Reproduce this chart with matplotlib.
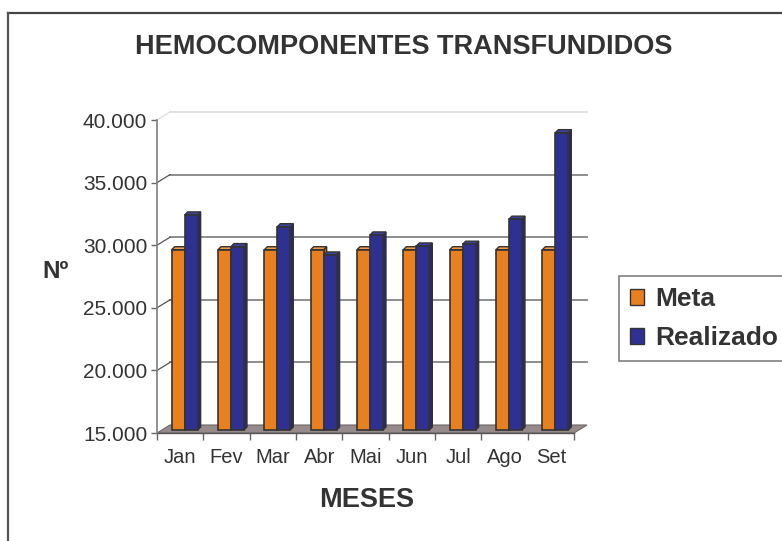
import matplotlib
matplotlib.use("Agg")
import matplotlib.pyplot as plt
from matplotlib.patches import Polygon, Patch
from matplotlib.lines import Line2D

plt.rcParams['font.family'] = ['Liberation Sans', 'DejaVu Sans']

meses = ["Jan", "Fev", "Mar", "Abr", "Mai", "Jun", "Jul", "Ago", "Set"]
meta = [29400, 29400, 29400, 29400, 29400, 29400, 29400, 29400, 29400]
realizado = [32180, 29650, 31240, 28980, 30580, 29700, 29840, 31840, 38750]
yticks = [15000, 20000, 25000, 30000, 35000, 40000]

txt = "#333333"
W, H = 782, 541
fig = plt.figure(figsize=(W / 100, H / 100), dpi=100)

# outer border (only top and left are visible)
fig.add_artist(Line2D([8 / W, 1], [1 - 13 / H, 1 - 13 / H], color="#444444", lw=1.6, transform=fig.transFigure))
fig.add_artist(Line2D([8 / W, 8 / W], [0, 1 - 13 / H], color="#555555", lw=1.6, transform=fig.transFigure))

ax = fig.add_axes([157 / W, 1 - 433 / H, 417 / W, 313 / H])
ymin, ymax = 15000, 40000
ax.set_xlim(-0.5, 8.5)
ax.set_ylim(ymin, ymax)

px_x = 9 / 417.0
px_y = (ymax - ymin) / 313.0
dxw, dyw = 13 * px_x, 8 * px_y      # back wall depth
dxb, dyb = 4.5 * px_x, 3 * px_y     # bar plane depth
ddx, ddy = 3 * px_x, 3 * px_y       # bar own depth
bw = 0.28

# floor
floor = Polygon([(-0.5, ymin), (8.5, ymin), (8.5 + dxw, ymin + dyw), (-0.5 + dxw, ymin + dyw)],
                closed=True, facecolor="#978a8a", edgecolor="#6f6666", lw=0.8, clip_on=False, zorder=1)
ax.add_patch(floor)

# back wall gridlines and left wall diagonals
for v in yticks[1:]:
    col = "#dddddd" if v == ymax else "#858585"
    ax.plot([-0.5 + dxw, 8.5 + dxw], [v + dyw, v + dyw], color=col, lw=1.3, clip_on=False, zorder=0.5)
    ax.plot([-0.5, -0.5 + dxw], [v, v + dyw], color=col if v == ymax else "#555555", lw=0.9,
            clip_on=False, zorder=0.5)


def bar3d(x0, val, front, top, side):
    x1 = x0 + bw
    b = ymin + dyb
    t = val + dyb
    ax.add_patch(Polygon([(x1, b), (x1 + ddx, b + ddy), (x1 + ddx, t + ddy), (x1, t)],
                         facecolor=side, edgecolor="#333333", lw=1.0, clip_on=False, zorder=3))
    ax.add_patch(Polygon([(x0, t), (x1, t), (x1 + ddx, t + ddy), (x0 + ddx, t + ddy)],
                         facecolor=top, edgecolor="#333333", lw=1.0, clip_on=False, zorder=3))
    ax.bar(x0, val - ymin, width=bw, bottom=b, align="edge", color=front,
           edgecolor="#333333", lw=1.2, zorder=3, clip_on=False)


for i in range(len(meses)):
    bar3d(i - bw + dxb, meta[i], "#E8801F", "#F29A45", "#C86A15")
    bar3d(i + dxb, realizado[i], "#2E3192", "#3E42A6", "#24277A")

for s in ["top", "right", "bottom"]:
    ax.spines[s].set_visible(False)
ax.spines["left"].set_color("#808080")
ax.spines["left"].set_linewidth(1.2)

ax.set_yticks(yticks)
ax.set_yticklabels([f"{v:,.0f}".replace(",", ".") for v in yticks])
ax.tick_params(axis="y", direction="out", length=4, width=1, color="#666666",
               labelsize=15, labelcolor=txt, pad=3)

ax.set_xticks([i - 0.5 for i in range(len(meses) + 1)])
ax.set_xticklabels([])
ax.set_xticks(range(len(meses)), minor=True)
ax.set_xticklabels(meses, minor=True)
ax.tick_params(axis="x", which="major", direction="out", length=5, width=1, color="#666666")
ax.tick_params(axis="x", which="minor", length=0, labelsize=14.5, labelcolor=txt, pad=11)
ax.plot([-0.5, 8.5], [ymin, ymin], color="#555555", lw=1.0, clip_on=False, zorder=2)

fig.text(404 / W, 1 - 47 / H, "HEMOCOMPONENTES TRANSFUNDIDOS", ha="center", va="center",
         fontsize=19.5, fontweight="bold", color=txt)
fig.text(367 / W, 1 - 500 / H, "MESES", ha="center", va="center", fontsize=19.5, fontweight="bold", color=txt)
fig.text(56 / W, 1 - 272 / H, "Nº", ha="center", va="center", fontsize=17.5, fontweight="bold", color=txt)

handles = [Patch(facecolor="#E8801F", edgecolor="#333333", lw=1.0, label="Meta"),
           Patch(facecolor="#2E3192", edgecolor="#333333", lw=1.0, label="Realizado")]
leg = fig.legend(handles=handles, loc="upper left", bbox_to_anchor=(619 / W, 1 - 276 / H),
                 prop={"size": 19, "weight": "bold"}, fancybox=False, framealpha=1,
                 edgecolor="#808080", handlelength=0.53, handleheight=0.53, handletextpad=0.42,
                 borderpad=0.42, labelspacing=0.58, borderaxespad=0)
for t in leg.get_texts():
    t.set_color(txt)
leg.get_frame().set_linewidth(1.2)

fig.savefig("out.png", dpi=100)
